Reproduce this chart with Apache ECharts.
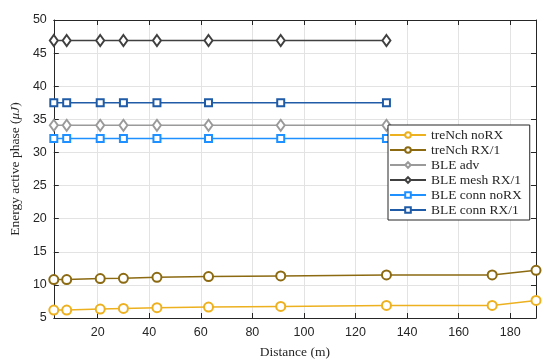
<!DOCTYPE html>
<html>
<head>
<meta charset="utf-8">
<script src="https://cdn.jsdelivr.net/npm/echarts@6/dist/echarts.min.js"></script>
<style>html,body{margin:0;padding:0;background:#fff}#c{width:550px;height:364px}</style>
</head>
<body>
<div id="c"></div>
<script>
const xTrenchVals = [3, 8, 21, 30, 43, 63, 91, 132, 173, 190];
const xBleVals = [3, 8, 21, 30, 43, 63, 91, 132];
const trenchNoRX = [6.2, 6.2, 6.35, 6.45, 6.55, 6.65, 6.75, 6.9, 6.9, 7.65];
const trenchRX1 = [10.8, 10.8, 10.95, 11.0, 11.15, 11.25, 11.35, 11.5, 11.5, 12.2];
const bleAdv = [34.1, 34.1, 34.1, 34.1, 34.1, 34.1, 34.1, 34.1];
const bleMesh = [46.9, 46.9, 46.9, 46.9, 46.9, 46.9, 46.9, 46.9];
const bleConnNoRX = [32.1, 32.1, 32.1, 32.1, 32.1, 32.1, 32.1, 32.1];
const bleConnRX1 = [37.5, 37.5, 37.5, 37.5, 37.5, 37.5, 37.5, 37.5];
const seriesNames = ['treNch noRX', 'treNch RX/1', 'BLE adv', 'BLE mesh RX/1', 'BLE conn noRX', 'BLE conn RX/1'];
const xTicks = [20, 40, 60, 80, 100, 120, 140, 160, 180];

function pairs(xs, ys) { return xs.map((x, i) => [x, ys[i]]); }

const axisColor = '#262626';
const gridColor = '#e3e3e3';
const sans = 'Liberation Sans, Arial, Helvetica, sans-serif';
const serif = 'Liberation Serif, DejaVu Serif, serif';

const chart = echarts.init(document.getElementById('c'), null, {renderer: 'canvas'});

function mk(name, xs, ys, color, symbol, size) {
  return {
    name: name, type: 'line', data: pairs(xs, ys),
    symbol: symbol, symbolSize: size, showAllSymbol: true,
    lineStyle: {color: color, width: 1.5},
    itemStyle: {color: color, borderColor: color, borderWidth: 1.5},
    emphasis: {disabled: true}, animation: false, z: 3
  };
}

const option = {
  animation: false,
  grid: {left: 51, right: 14, top: 20, bottom: 41, containLabel: false},
  legend: {
    data: seriesNames,
    orient: 'vertical',
    left: 388, top: 125,
    backgroundColor: '#fff',
    borderColor: '#262626',
    borderWidth: 1,
    padding: [3, 8, 3, 1],
    itemWidth: 36,
    itemHeight: 7,
    itemGap: 1,
    textStyle: {fontFamily: serif, fontSize: 13.5, color: '#262626', lineHeight: 14},
    selectedMode: false
  },
  xAxis: [{
    type: 'value', min: 3, max: 190,
    name: 'Distance (m)', nameLocation: 'middle', nameGap: 27,
    nameTextStyle: {fontFamily: serif, fontSize: 13.5, color: '#262626'},
    axisLine: {show: true, lineStyle: {color: axisColor, width: 1}},
    axisTick: {show: true, inside: true, length: 5, customValues: xTicks, lineStyle: {color: axisColor}},
    axisLabel: {customValues: xTicks, fontFamily: sans, fontSize: 12.5, color: '#262626', margin: 8},
    splitLine: {show: true, lineStyle: {color: gridColor, width: 1}}
  }, {
    type: 'value', min: 3, max: 190, position: 'top',
    axisLine: {show: true, lineStyle: {color: axisColor, width: 1}},
    axisTick: {show: true, inside: true, length: 5, customValues: xTicks, lineStyle: {color: axisColor}},
    axisLabel: {show: false},
    splitLine: {show: false}
  }],
  yAxis: [{
    type: 'value', min: 5, max: 50, interval: 5,
    name: '{a|Energy active phase (}{i|\u03bcJ}{a|)}', nameLocation: 'middle', nameGap: 27,
    nameRotate: 90,
    nameTextStyle: {rich: {
      a: {fontFamily: serif, fontSize: 13.5, color: '#262626'},
      i: {fontFamily: serif, fontSize: 13.5, fontStyle: 'italic', color: '#262626'}
    }},
    axisLine: {show: true, lineStyle: {color: axisColor, width: 1}},
    axisTick: {show: true, inside: true, length: 5, lineStyle: {color: axisColor}},
    axisLabel: {fontFamily: sans, fontSize: 12.5, color: '#262626', margin: 7},
    splitLine: {show: true, lineStyle: {color: gridColor, width: 1}}
  }, {
    type: 'value', min: 5, max: 50, interval: 5, position: 'right',
    axisLine: {show: true, lineStyle: {color: axisColor, width: 1}},
    axisTick: {show: true, inside: true, length: 5, lineStyle: {color: axisColor}},
    axisLabel: {show: false},
    splitLine: {show: false}
  }],
  series: [
    mk(seriesNames[0], xTrenchVals, trenchNoRX, '#EDB120', 'emptyCircle', 9),
    mk(seriesNames[1], xTrenchVals, trenchRX1, '#8C6A12', 'emptyCircle', 9),
    mk(seriesNames[2], xBleVals, bleAdv, '#9A9A9A', 'emptyDiamond', [8, 11]),
    mk(seriesNames[3], xBleVals, bleMesh, '#404040', 'emptyDiamond', [8, 11]),
    mk(seriesNames[4], xBleVals, bleConnNoRX, '#1E90FF', 'emptyRect', 7),
    mk(seriesNames[5], xBleVals, bleConnRX1, '#1F5BA6', 'emptyRect', 7)
  ]
};
chart.setOption(option);
</script>
</body>
</html>
